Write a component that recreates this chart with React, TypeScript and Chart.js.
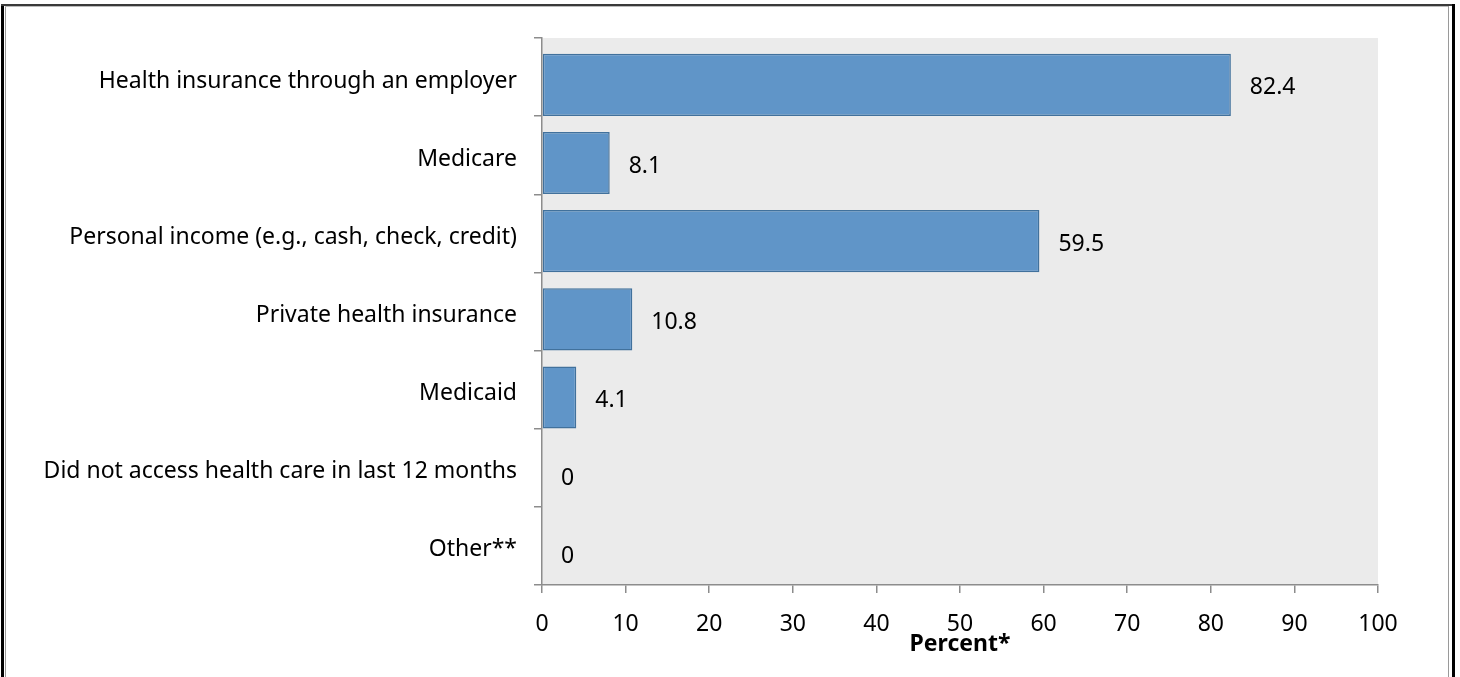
import React, { useEffect, useRef } from "react";
import { Chart, registerables } from "chart.js";

Chart.register(...registerables);

const categories = [
  "Health insurance through an employer",
  "Medicare",
  "Personal income (e.g., cash, check, credit)",
  "Private health insurance",
  "Medicaid",
  "Did not access health care in last 12 months",
  "Other**",
];
const percentValues = [82.4, 8.1, 59.5, 10.8, 4.1, 0, 0];
const valueLabels = ["82.4", "8.1", "59.5", "10.8", "4.1", "0", "0"];
const xMin = 0;
const xMax = 100;
const xStep = 10;
const xAxisTitle = "Percent*";

const FONT = "Noto Sans";
const FONT_SIZE = 23;
const BAR_SHIFT = 0.1;

export default function App() {
  const ref = useRef<HTMLCanvasElement>(null);

  useEffect(() => {
    const bgPlugin = {
      id: "plotBg",
      beforeDraw(chart: any) {
        const { ctx, chartArea } = chart;
        ctx.save();
        ctx.fillStyle = "#EBEBEB";
        ctx.fillRect(chartArea.left, chartArea.top, chartArea.right - chartArea.left, chartArea.bottom - chartArea.top);
        ctx.restore();
      },
    };
    const labelPlugin = {
      id: "valueLabels",
      afterDatasetsDraw(chart: any) {
        const { ctx } = chart;
        const meta = chart.getDatasetMeta(0);
        ctx.save();
        ctx.font = `${FONT_SIZE}px "${FONT}"`;
        ctx.fillStyle = "#000";
        ctx.textAlign = "left";
        ctx.textBaseline = "middle";
        meta.data.forEach((bar: any, i: number) => {
          const p = bar.getProps(["x", "y"], true);
          ctx.fillText(valueLabels[i], p.x + 19, p.y + 3);
        });
        ctx.restore();
      },
    };

    const chart = new Chart(ref.current!, {
      type: "bar",
      data: {
        labels: categories,
        datasets: [
          {
            data: percentValues.map((v, i) => ({ x: v, y: i + BAR_SHIFT })) as any,
            xAxisID: "x",
            yAxisID: "yb",
            backgroundColor: "#6095C8",
            borderColor: "#41719C",
            borderWidth: (ctx: any) => (percentValues[ctx.dataIndex] === 0 ? 0 : 1.5),
            borderSkipped: false,
            barPercentage: 0.795,
            categoryPercentage: 1,
          },
        ],
      },
      options: {
        indexAxis: "y",
        responsive: false,
        animation: false,
        layout: { padding: { top: 38, right: 82, bottom: 0, left: 0 } },
        plugins: { legend: { display: false }, tooltip: { enabled: false }, title: { display: false } },
        scales: {
          x: {
            type: "linear",
            position: "bottom",
            min: xMin,
            max: xMax,
            ticks: { stepSize: xStep, color: "#000", font: { family: FONT, size: FONT_SIZE }, padding: 18 },
            grid: { drawOnChartArea: false, drawTicks: true, tickLength: 8, color: "#8C8C8C", lineWidth: 1.5 },
            border: { display: true, color: "#8C8C8C", width: 1.5 },
            title: {
              display: true,
              text: xAxisTitle,
              color: "#000",
              font: { family: FONT, size: FONT_SIZE, weight: "bold" },
              padding: { top: 0, bottom: 19 },
            },
            afterFit: (s: any) => {
              s.height = 92;
            },
          },
          y: {
            type: "category",
            position: "left",
            offset: true,
            grid: { offset: true, drawOnChartArea: false, drawTicks: true, tickLength: 8, color: "#8C8C8C", lineWidth: 1.5 },
            border: { display: true, color: "#8C8C8C", width: 1.5 },
            ticks: { color: "#000", font: { family: FONT, size: FONT_SIZE }, padding: 17, autoSkip: false, labelOffset: 4 },
            afterFit: (s: any) => {
              s.width = 542;
            },
          },
          yb: {
            type: "linear",
            display: false,
            offset: false,
            bounds: "data",
            min: -0.5,
            max: 6.5,
            reverse: true,
            grid: { offset: false },
            ticks: { stepSize: 1, includeBounds: false },
          },
        },
      } as any,
      plugins: [bgPlugin, labelPlugin],
    });
    return () => chart.destroy();
  }, []);

  return (
    <div style={{ position: "absolute", left: 0, top: 0, width: 1460, height: 677, background: "#fff", overflow: "hidden" }}>
      <canvas ref={ref} width={1460} height={677} style={{ position: "absolute", left: 0, top: 0 }} />
      <div style={{ position: "absolute", left: 1, top: 4, width: 3, height: 673, background: "#000" }} />
      <div style={{ position: "absolute", left: 5, top: 6, width: 1, height: 671, background: "#9A9A9A" }} />
      <div style={{ position: "absolute", left: 1, top: 4, width: 1454, height: 2, background: "#3A3A3A" }} />
      <div style={{ position: "absolute", left: 5, top: 6, width: 1444, height: 1, background: "#BBBBBB" }} />
      <div style={{ position: "absolute", left: 1448, top: 6, width: 1, height: 671, background: "#9A9A9A" }} />
      <div style={{ position: "absolute", left: 1452, top: 4, width: 3, height: 673, background: "#000" }} />
    </div>
  );
}
